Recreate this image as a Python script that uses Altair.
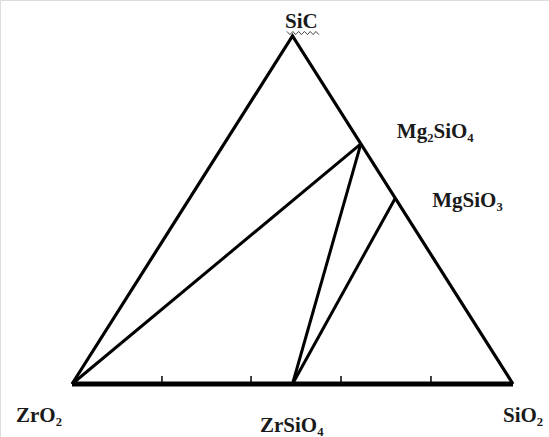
import altair as alt
import pandas as pd

# Phase compositions as fractions (ZrO2, SiO2, SiC)
phases = ["ZrO2", "SiO2", "SiC", "ZrSiO4", "Mg2SiO4", "MgSiO3"]
frac_zro2 = [1.0, 0.0, 0.0, 0.5, 0.0, 0.0]
frac_sio2 = [0.0, 1.0, 0.0, 0.5, 0.31, 0.466]
frac_sic = [0.0, 0.0, 1.0, 0.0, 0.69, 0.534]

labels = ["ZrO₂", "SiO₂", "SiC", "ZrSiO₄", "Mg₂SiO₄", "MgSiO₃"]

# Tie lines between coexisting phases
ties_from = ["ZrO2", "ZrSiO4", "ZrSiO4"]
ties_to = ["Mg2SiO4", "Mg2SiO4", "MgSiO3"]

# Tick positions along the ZrO2-SiO2 base
base_ticks = [0.204, 0.406, 0.61, 0.814]

# Wavy underline beneath the SiC label (x offset from apex, height)
squiggle_dx = [-0.0125, -0.006, 0.001, 0.007, 0.014, 0.020, 0.027, 0.034, 0.040, 0.047, 0.053, 0.060]
squiggle_y = [1.013, 1.004, 1.013, 1.004, 1.013, 1.004, 1.013, 1.004, 1.013, 1.004, 1.013, 1.004]


def cart(name):
    i = phases.index(name)
    return frac_sio2[i] + 0.5 * frac_sic[i], frac_sic[i]


pts = pd.DataFrame({
    "phase": phases,
    "label": labels,
    "x": [cart(p)[0] for p in phases],
    "y": [cart(p)[1] for p in phases],
})

W, H = 549, 437
xs = alt.Scale(domain=[-72 / 441, (W - 72) / 441], range=[0, W], nice=False, zero=False)
ys = alt.Scale(domain=[-(H - 384) / 348, 384 / 348], range=[H, 0], nice=False, zero=False)
X = lambda f: alt.X(f, type="quantitative", scale=xs, axis=None)
Y = lambda f: alt.Y(f, type="quantitative", scale=ys, axis=None)

# Triangle outline
outline = pd.DataFrame({
    "x": [cart("ZrO2")[0], cart("SiC")[0], cart("SiO2")[0]],
    "y": [cart("ZrO2")[1], cart("SiC")[1], cart("SiO2")[1]],
    "o": [0, 1, 2],
})
tri = alt.Chart(outline).mark_line(
    color="black", strokeWidth=3.2, strokeJoin="miter"
).encode(x=X("x"), y=Y("y"), order="o:Q")

base = pd.DataFrame({"x": [cart("ZrO2")[0]], "x2": [cart("SiO2")[0]], "y": [0.0]})
base_line = alt.Chart(base).mark_rule(color="black", strokeWidth=5).encode(
    x=X("x"), x2="x2", y=Y("y")
)

ticks = pd.DataFrame({"x": base_ticks, "y": [0.0] * 4, "y2": [0.023] * 4})
tick_marks = alt.Chart(ticks).mark_rule(color="black", strokeWidth=1.5).encode(
    x=X("x"), y=Y("y"), y2="y2"
)

ties = pd.DataFrame({
    "x": [cart(a)[0] for a in ties_from],
    "y": [cart(a)[1] for a in ties_from],
    "x2": [cart(b)[0] for b in ties_to],
    "y2": [cart(b)[1] for b in ties_to],
})
tie_lines = alt.Chart(ties).mark_rule(color="black", strokeWidth=3).encode(
    x=X("x"), y=Y("y"), x2="x2", y2="y2"
)

sq = pd.DataFrame({
    "x": [cart("SiC")[0] + d for d in squiggle_dx],
    "y": squiggle_y,
    "o": list(range(len(squiggle_dx))),
})
squiggle = alt.Chart(sq).mark_line(color="#444444", strokeWidth=1).encode(
    x=X("x"), y=Y("y"), order="o:Q"
)

font = "'Liberation Serif', 'DejaVu Serif', serif"


def label(phase, dx, dy):
    return alt.Chart(pts[pts.phase == phase]).mark_text(
        font=font, fontSize=21, fontWeight="bold", color="#1a1a1a",
        align="left", baseline="alphabetic", dx=dx, dy=dy,
    ).encode(x=X("x"), y=Y("y"), text="label:N")


texts = (
    label("SiC", -7.5, -8)
    + label("ZrO2", -56, 38)
    + label("SiO2", -10, 38)
    + label("ZrSiO4", -32.5, 48)
    + label("Mg2SiO4", 36, -6)
    + label("MgSiO3", 37, 9)
)

chart = (tri + base_line + tick_marks + tie_lines + squiggle + texts).properties(
    width=W, height=H, padding=0, autosize=alt.AutoSizeParams(type="none")
).configure_view(stroke=None).configure(background="white")

chart.save("out.html", embed_options={"renderer": "svg", "actions": False})
